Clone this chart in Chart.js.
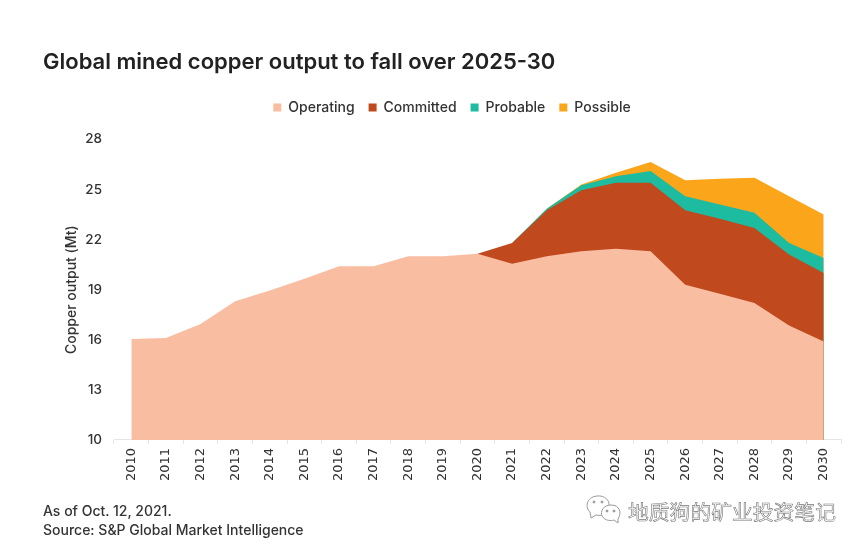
<!DOCTYPE html>
<html>
<head>
<meta charset="utf-8">
<script src="https://cdn.jsdelivr.net/npm/chart.js@4"></script>
<style>
  html, body { margin: 0; padding: 0; background: #fff; }
  #wrap { position: relative; width: 865px; height: 549px; overflow: hidden; }
  #myChart { position: absolute; left: 0; top: 0; }
  .note { position: absolute; left: 43px; font: 500 14px Inter, sans-serif; color: #333; white-space: nowrap; }
  #mark { position: absolute; left: 628px; top: 496px; font: 20.8px "Noto Sans CJK SC", sans-serif; color: #fff;
          -webkit-text-stroke: 0.6px #777; white-space: nowrap; }
  #logo { position: absolute; left: 585px; top: 493px; }
</style>
</head>
<body>
<div id="wrap">
  <canvas id="myChart" width="865" height="549"></canvas>
  <div class="note" style="top:502px">As of Oct. 12, 2021.</div>
  <div class="note" style="top:521px">Source: S&amp;P Global Market Intelligence</div>
  <svg id="logo" width="38" height="32" viewBox="0 0 38 32" fill="#fff" stroke="#999" stroke-width="1">
    <path d="M5 19 C0 15 1 4 12 3 C20 2 25 8 24 13 L23 21 C18 22 14 23 11 22 L6 25 Z"/>
    <path d="M33 26 C37 20 35 12 26 12 C18 12 15 19 17 23 C20 28 26 28 29 27 L33 30 Z"/>
    <circle cx="9" cy="9" r="1" fill="#999"/><circle cx="17" cy="9" r="1" fill="#999"/>
    <circle cx="22" cy="18" r="1" fill="#999"/><circle cx="29" cy="18" r="1" fill="#999"/>
  </svg>
  <div id="mark">地质狗的矿业投资笔记</div>
</div>
<script>
var years = ['2010','2011','2012','2013','2014','2015','2016','2017','2018','2019','2020',
             '2021','2022','2023','2024','2025','2026','2027','2028','2029','2030'];
var operating = [16.05,16.1,16.95,18.3,18.95,19.65,20.4,20.4,21.0,21.0,21.15,20.55,21.0,21.3,21.45,21.3,19.3,18.75,18.2,16.85,15.9];
var committed = [null,null,null,null,null,null,null,null,null,null,0,1.25,2.75,3.65,3.95,4.1,4.45,4.5,4.5,4.25,4.1];
var probable = [null,null,null,null,null,null,null,null,null,null,null,0,0.1,0.3,0.4,0.7,0.85,0.85,0.9,0.7,0.9];
var possible = [null,null,null,null,null,null,null,null,null,null,null,null,0,0.05,0.2,0.55,0.95,1.55,2.1,2.8,2.6];
var yTicks = [10,13,16,19,22,25,28];

function area(label, values, color) {
  return { label: label, data: values, backgroundColor: color, borderColor: color,
           borderWidth: 0, pointRadius: 0, fill: true, tension: 0 };
}

// legend sits right of the plot centre, with extra room under it
var legendGap = {
  id: 'legendGap',
  afterInit: function (chart) {
    var fit = chart.legend.fit;
    chart.legend.fit = function () {
      fit.call(this);
      this.height += 15;
    };
  },
  afterLayout: function (chart) {
    chart.legend.left += 20;
  }
};

var ctx = document.getElementById('myChart').getContext('2d');
var chart = new Chart(ctx, {
  type: 'line',
  data: {
    labels: years,
    datasets: [
      area('Operating', operating, '#f9bda2'),
      area('Committed', committed, '#c0491e'),
      area('Probable', probable, '#1dbb9f'),
      area('Possible', possible, '#fba51a')
    ]
  },
  plugins: [legendGap],
  options: {
    responsive: false,
    animation: false,
    layout: { padding: { left: 43, right: 24, top: 49, bottom: 64 } },
    plugins: {
      tooltip: { enabled: false },
      title: {
        display: true, text: 'Global mined copper output to fall over 2025-30', align: 'start',
        color: '#222', font: { family: 'Inter', size: 22, weight: '600' }, padding: { top: 0, bottom: 11 }
      },
      legend: {
        position: 'top',
        labels: {
          color: '#333', font: { family: 'Inter', size: 14, weight: '500' }, boxWidth: 8, boxHeight: 8, padding: 14
        }
      }
    },
    scales: {
      x: {
        offset: true,
        grid: { display: true, drawOnChartArea: false, color: '#e4e4e4', tickLength: 4, offset: true },
        border: { color: '#e4e4e4' },
        ticks: { color: '#333', font: { family: 'DejaVu Sans', size: 13 }, minRotation: 90, maxRotation: 90, padding: 4 }
      },
      y: {
        stacked: true, min: 10, max: 28,
        afterBuildTicks: function (axis) { axis.ticks = yTicks.map(function (v) { return { value: v }; }); },
        afterFit: function (axis) { axis.width = 71; },
        grid: { display: false },
        border: { display: false },
        ticks: { color: '#333', font: { family: 'Inter', size: 13.5, weight: '500' }, padding: 4 },
        title: { display: true, text: 'Copper output (Mt)', color: '#333', font: { family: 'Inter', size: 14, weight: '500' }, padding: { top: 20, bottom: 0 } }
      }
    }
  }
});
</script>
</body>
</html>
